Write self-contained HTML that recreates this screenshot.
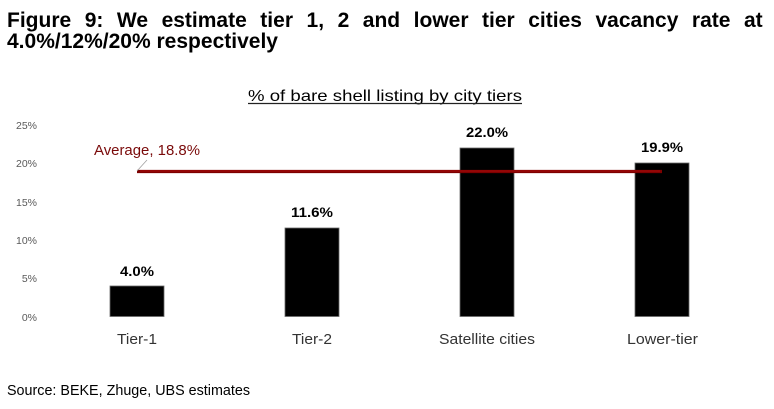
<!DOCTYPE html>
<html>
<head>
<meta charset="utf-8">
<style>
  html,body{margin:0;padding:0;background:#fff;}
  body{width:774px;height:409px;overflow:hidden;position:relative;}
  svg{position:absolute;left:0;top:0;}
  .t1{position:absolute;left:7px;top:5px;width:756px;font-family:"Liberation Sans",sans-serif;font-weight:bold;font-size:21px;line-height:27px;color:#000;text-align:justify;text-align-last:justify;white-space:nowrap;}
</style>
</head>
<body>
<svg width="774" height="409" viewBox="0 0 774 409" xmlns="http://www.w3.org/2000/svg">
  <defs>
    <filter id="glow" x="-5%" y="-200%" width="110%" height="500%">
      <feGaussianBlur stdDeviation="1.3"/>
    </filter>
  </defs>
  <!-- Figure title -->
  <g font-family="Liberation Sans, sans-serif" font-weight="bold" font-size="21" fill="#000">
    <text x="7" y="27" word-spacing="7.7">Figure 9: We estimate tier 1, 2 and lower tier cities vacancy rate at</text>
    <text x="7" y="48" textLength="271" lengthAdjust="spacingAndGlyphs">4.0%/12%/20% respectively</text>
  </g>

  <!-- Chart title -->
  <text x="248" y="101" font-family="Liberation Sans, sans-serif" font-size="16" fill="#000" textLength="274" lengthAdjust="spacingAndGlyphs">% of bare shell listing by city tiers</text>
  <line x1="248" y1="103.5" x2="522" y2="103.5" stroke="#222" stroke-width="1.2"/>

  <!-- Y axis labels -->
  <g font-family="Liberation Sans, sans-serif" font-size="10.5" fill="#595959" text-anchor="end">
    <text x="37" y="129">25%</text>
    <text x="37" y="167">20%</text>
    <text x="37" y="206">15%</text>
    <text x="37" y="244">10%</text>
    <text x="37" y="282">5%</text>
    <text x="37" y="321">0%</text>
  </g>

  <!-- Bars -->
  <g fill="#000" stroke="#6a6a6a" stroke-width="0.8">
    <rect x="110" y="286" width="54" height="30.5"/>
    <rect x="285" y="228" width="54" height="88.5"/>
    <rect x="460" y="148" width="54" height="168.5"/>
    <rect x="635" y="163" width="54" height="153.5"/>
  </g>

  <!-- Average line -->
  <line x1="137" y1="171.5" x2="662" y2="171.5" stroke="#c01010" stroke-width="5" filter="url(#glow)" opacity="0.7"/>
  <line x1="137" y1="171.5" x2="662" y2="171.5" stroke="#7e0000" stroke-width="3.2"/>
  <line x1="140" y1="171" x2="660" y2="171" stroke="#a80c0c" stroke-width="1"/>
  <line x1="137" y1="171" x2="147" y2="160" stroke="#a0a0a0" stroke-width="0.8"/>
  <text x="94" y="155" font-family="Liberation Sans, sans-serif" font-size="14.5" fill="#7a0a0a" textLength="106" lengthAdjust="spacingAndGlyphs">Average, 18.8%</text>

  <!-- Value labels -->
  <g font-family="Liberation Sans, sans-serif" font-weight="bold" font-size="14" fill="#000" text-anchor="middle">
    <text x="137" y="276" textLength="34" lengthAdjust="spacingAndGlyphs">4.0%</text>
    <text x="312" y="217" textLength="42" lengthAdjust="spacingAndGlyphs">11.6%</text>
    <text x="487" y="137" textLength="42" lengthAdjust="spacingAndGlyphs">22.0%</text>
    <text x="662" y="152" textLength="42" lengthAdjust="spacingAndGlyphs">19.9%</text>
  </g>

  <!-- Category labels -->
  <g font-family="Liberation Sans, sans-serif" font-size="14.5" fill="#333" text-anchor="middle">
    <text x="137" y="344" textLength="40" lengthAdjust="spacingAndGlyphs">Tier-1</text>
    <text x="312" y="344" textLength="40" lengthAdjust="spacingAndGlyphs">Tier-2</text>
    <text x="487" y="344" textLength="96" lengthAdjust="spacingAndGlyphs">Satellite cities</text>
    <text x="662.5" y="344" textLength="71" lengthAdjust="spacingAndGlyphs">Lower-tier</text>
  </g>

  <!-- Source -->
  <text x="7" y="395" font-family="Liberation Sans, sans-serif" font-size="15" fill="#000" textLength="243" lengthAdjust="spacingAndGlyphs">Source: BEKE, Zhuge, UBS estimates</text>
</svg>
</body>
</html>
